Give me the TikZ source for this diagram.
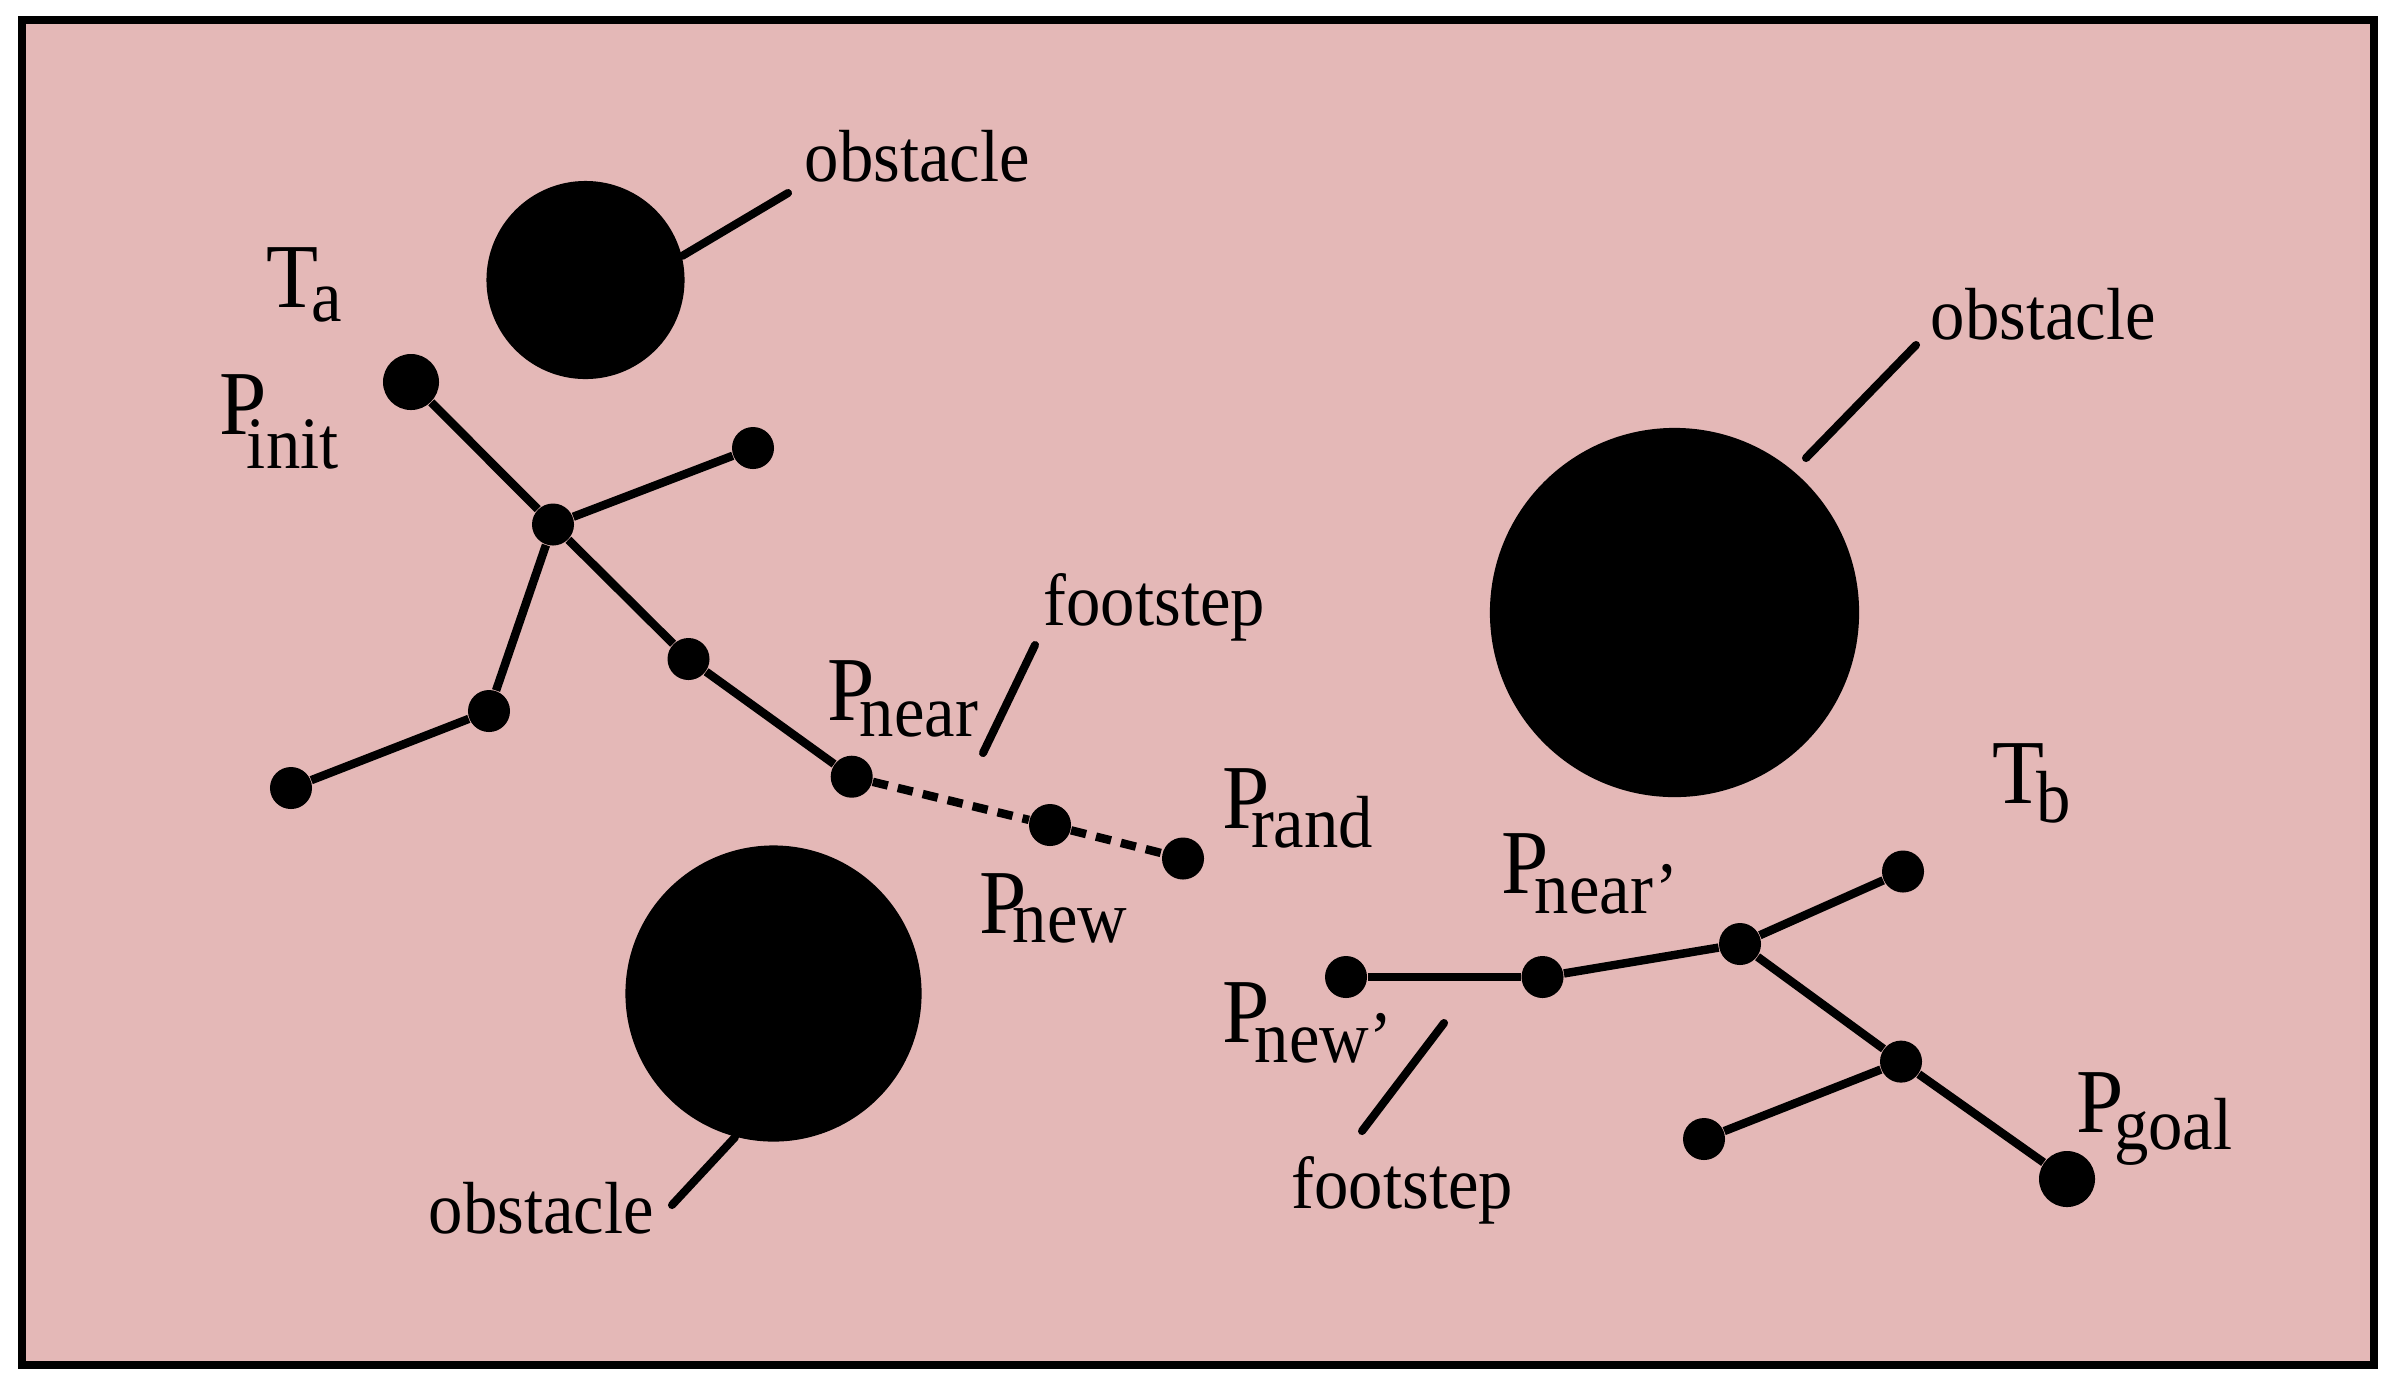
\documentclass[tikz,border=0pt]{standalone}
\usepackage{fontspec}
\setmainfont{Liberation Serif}[FakeStretch=0.93]
\definecolor{bgpink}{RGB}{228,184,183}
\newcommand\mylab[4]{{\fontsize{26pt}{28pt}\selectfont #1}\kern#2pt\raisebox{-#3pt}{\fontsize{21pt}{24pt}\selectfont #4}}
\tikzset{
  treedot/.style={circle,fill=black,inner sep=0pt,minimum size=0.42cm},
  bigdot/.style={treedot,minimum size=0.56cm},
  obst/.style={circle,fill=black,inner sep=0pt},
  link/.style={line width=2.4pt},
  dashlink/.style={line width=2.4pt,dash pattern=on 4.4pt off 2.9pt},
  leadline/.style={line width=2.3pt,line cap=round},
  txt/.style={anchor=base west,inner sep=0pt,font=\fontsize{21pt}{24pt}\selectfont},
  plabel/.style={anchor=base west,inner sep=0pt},
}
\begin{document}
\begin{tikzpicture}[x=0.01cm,y=-0.01cm]
\useasboundingbox (0,0) rectangle (2398,1393);
\fill[white] (0,0) rectangle (2398,1393);
\draw[line width=0.08cm,fill=bgpink] (22,20) rectangle (2374,1365);

% obstacles
\node[obst,minimum size=1.98cm] (o1) at (585.5,280) {};
\node[obst,minimum size=3.69cm] (o2) at (1674.5,612.5) {};
\node[obst,minimum size=2.96cm] (o3) at (773.5,993.5) {};

\node[txt] (ob1) at (804,181) {obstacle};
\node[txt] (ob2) at (1930,339) {obstacle};
\node[txt] (ob3) at (428,1233) {obstacle};
\coordinate (l1) at (788,193);
\coordinate (l2a) at (1806,458);
\coordinate (l2b) at (1916,345);
\coordinate (l3) at (672,1205);
\draw[leadline] (o1.14.7) -- (l1);
\draw[leadline] (l2a) -- (l2b);
\draw[leadline] (o3.-105.4) -- (l3);

% tree a
\node[bigdot] (pinit) at (411,382) {};
\node[treedot] (ha) at (553,524.5) {};
\node[treedot] (a1) at (753,448) {};
\node[treedot] (a2) at (489,711) {};
\node[treedot] (a3) at (291,788) {};
\node[treedot] (a4) at (688.5,659) {};
\node[treedot] (pnear) at (851.7,776.7) {};
\node[treedot] (pnew) at (1050,825) {};
\node[treedot] (prand) at (1183,858.5) {};
\draw[link] (pinit) -- (ha);
\draw[link] (ha) -- (a1);
\draw[link] (ha) -- (a2);
\draw[link] (a2) -- (a3);
\draw[link] (ha) -- (a4);
\draw[link] (a4) -- (pnear);
\draw[dashlink] (pnear) -- (pnew);
\draw[dashlink] (pnew) -- (prand);

% tree b
\node[treedot] (pnewb) at (1346,977) {};
\node[treedot] (pnearb) at (1542.5,977) {};
\node[treedot] (hb) at (1740,944) {};
\node[treedot] (b1) at (1903,871.5) {};
\node[treedot] (b2) at (1901,1061.6) {};
\node[treedot] (b3) at (1704,1139) {};
\node[bigdot] (pgoal) at (2067,1179) {};
\draw[link] (pnewb) -- (pnearb);
\draw[link] (pnearb) -- (hb);
\draw[link] (hb) -- (b1);
\draw[link] (hb) -- (b2);
\draw[link] (b2) -- (b3);
\draw[link] (b2) -- (pgoal);

% labels
\node[plabel] (lta) at (266,307) {\mylab{T}{-2.1}{4.0}{a}};
\node[plabel] (lpinit) at (219,434) {\mylab{P}{-5.7}{9.7}{init}};
\node[plabel] (lpnear) at (827,720) {\mylab{P}{-4.3}{4.8}{near}};
\node[plabel] (lpnew) at (979,933) {\mylab{P}{-4.0}{2.6}{new}};
\node[plabel] (lprand) at (1222,828) {\mylab{P}{-5.4}{5.4}{rand}};
\node[plabel] (ltb) at (1992,803) {\mylab{T}{-2.3}{5.4}{b}};
\node[plabel] (lpnearb) at (1501,893) {\mylab{P}{-4.0}{5.7}{near’}};
\node[plabel] (lpnewb) at (1222,1042) {\mylab{P}{-4.3}{5.7}{new’}};
\node[plabel] (lpgoal) at (2076,1132) {\mylab{P}{-2.8}{5.1}{goal}};

% footstep labels
\node[txt] (fs1) at (1043,625) {footstep};
\node[txt] (fs2) at (1291,1208) {footstep};
\coordinate (f1a) at (1035,645);
\coordinate (f1b) at (983,753);
\coordinate (f2a) at (1444,1023);
\coordinate (f2b) at (1362,1131);
\draw[leadline] (f1a) -- (f1b);
\draw[leadline] (f2a) -- (f2b);
\end{tikzpicture}
\end{document}
